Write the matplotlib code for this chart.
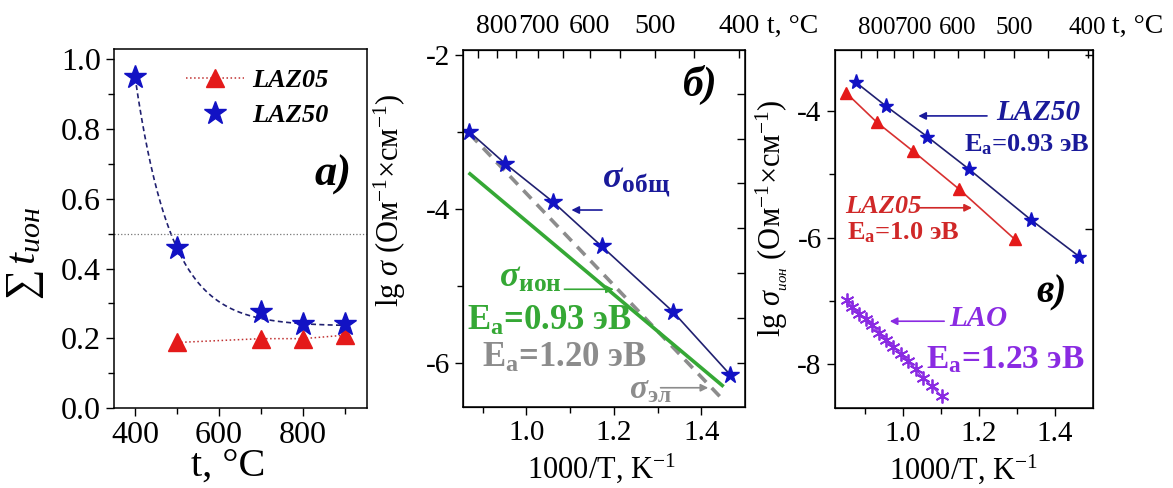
import matplotlib
matplotlib.use('Agg')
import matplotlib.pyplot as plt
import numpy as np

plt.rcParams['font.family'] = 'Liberation Serif'
plt.rcParams['mathtext.fontset'] = 'custom'
plt.rcParams['mathtext.rm'] = 'Liberation Serif'
plt.rcParams['mathtext.it'] = 'Liberation Serif:italic'
plt.rcParams['mathtext.bf'] = 'Liberation Serif:bold'
plt.rcParams['mathtext.bfit'] = 'Liberation Serif:italic:bold'
plt.rcParams['axes.unicode_minus'] = False

# --- (a) summary ionic transport number vs temperature ---
t_laz50 = [400, 500, 700, 800, 900]
sum_t_laz50 = [0.95, 0.46, 0.275, 0.242, 0.240]
t_laz05 = [500, 700, 800, 900]
sum_t_laz05 = [0.188, 0.199, 0.199, 0.209]
# exponential decay fit for LAZ50: y0 + A*exp(-(t - 400)/tau)
fit_y0, fit_A, fit_tau = 0.235, 0.715, 86.0

# --- (b) total / ionic / electronic conductivity of LAZ50 ---
invT_total = [0.869, 0.952, 1.060, 1.172, 1.335, 1.466]
lg_sigma_total = [-2.99, -3.41, -3.90, -4.48, -5.33, -6.15]
invT_ion = [0.871, 1.448]
lg_sigma_ion = [-3.54, -6.29]
invT_el = [0.870, 1.447]
lg_sigma_el = [-3.02, -6.46]

# --- (c) ionic conductivity of LAZ50, LAZ05, LAO ---
invT_laz50 = [0.877, 0.955, 1.065, 1.174, 1.337, 1.464]
lg_ion_laz50 = [-3.55, -3.92, -4.41, -4.92, -5.72, -6.30]
invT_laz05 = [0.852, 0.932, 1.028, 1.147, 1.295]
lg_ion_laz05 = [-3.72, -4.18, -4.64, -5.23, -6.03]
invT_lao = [0.853, 0.866, 0.886, 0.903, 0.920, 0.937, 0.955,
            0.974, 0.996, 1.013, 1.035, 1.054, 1.077, 1.102]
lg_ion_lao = [-6.99, -7.09, -7.20, -7.29, -7.38, -7.50, -7.62,
              -7.72, -7.84, -7.95, -8.08, -8.22, -8.35, -8.50]

top_t_major = [800, 700, 600, 500, 400]
top_t_all = list(range(850, 350, -50))

BLUE = '#1212c4'
NAVY = '#202070'
RED = '#e41a1a'
GREEN = '#35a835'
GRAY = '#8c8c8c'
PURPLE = '#8a2be2'


def inv_T(t):
    return 1000.0 / (np.asarray(t, dtype=float) + 273.15)


def style_axis(ax, size):
    ax.tick_params(which='both', direction='out', labelsize=size, width=1)
    ax.tick_params(which='major', length=6)
    ax.tick_params(which='minor', length=4)
    for s in ax.spines.values():
        s.set_linewidth(1.1)


def add_top_temperature(ax, size, label_x):
    top = ax.twiny()
    top.set_xlim(ax.get_xlim())
    top.set_xticks(inv_T(top_t_major))
    top.set_xticklabels([str(t) for t in top_t_major])
    top.set_xticks(inv_T(top_t_all), minor=True)
    top.tick_params(which='both', direction='in', length=6, width=1,
                    labelsize=size, pad=8)
    top.text(label_x, 1.067, 't, °C', transform=ax.transAxes, fontsize=20,
             ha='left', va='center')
    return top


def add_right_ticks(ax, fracs):
    right = ax.twinx()
    right.set_ylim(0, 1)
    right.set_yticks(fracs)
    right.tick_params(direction='in', length=6, width=1, labelright=False)


def arrow(ax, tail, head, color, lw=1.2):
    ax.annotate('', xy=head, xytext=tail,
                arrowprops=dict(arrowstyle='-|>', color=color, lw=lw,
                                mutation_scale=11, shrinkA=0, shrinkB=0))


fig = plt.figure(figsize=(11.73, 4.88), dpi=100)

# ---------------- panel a ----------------
ax1 = fig.add_axes([0.0972, 0.1639, 0.2157, 0.7357])
tt = np.linspace(400, 900, 200)
ax1.plot(tt, fit_y0 + fit_A * np.exp(-(tt - 400) / fit_tau), '--',
         color=NAVY, lw=1.2, dashes=(3, 2))
ax1.plot(t_laz05, sum_t_laz05, ':', color='#c03030', lw=1.1,
         marker='^', ms=13, mfc=RED, mec=RED, label='LAZ05')
ax1.plot(t_laz50, sum_t_laz50, ls='none', marker='*', ms=17,
         mfc=BLUE, mec=BLUE, label='LAZ50')
ax1.axhline(0.5, color='#777777', ls=':', lw=0.9)
ax1.set_xlim(350, 952)
ax1.set_ylim(0, 1.03)
ax1.set_xticks([400, 600, 800])
ax1.set_xticks([500, 700, 900], minor=True)
ax1.set_yticks(np.arange(0, 1.01, 0.2))
ax1.set_yticks(np.arange(0.1, 1.0, 0.2), minor=True)
ax1.yaxis.set_major_formatter(matplotlib.ticker.FormatStrFormatter('%.1f'))
style_axis(ax1, 23)
ax1.set_xlabel('t, °C', fontsize=29)
ax1.xaxis.set_label_coords(0.45, -0.11)
ax1.set_ylabel(r'$\sum\, t_{ион}$', fontsize=31)
ax1.yaxis.set_label_coords(-0.27, 0.43)
ax1.legend(loc='upper right', bbox_to_anchor=(0.91, 0.99), frameon=False,
           numpoints=1, handlelength=2.2,
           prop=dict(family='Liberation Serif', weight='bold',
                     style='italic', size=19),
           borderaxespad=0.2, labelspacing=0.45, handletextpad=0.3)
ax1.text(871, 0.67, 'a)', fontsize=32, fontweight='bold', style='italic',
         ha='center', va='center')

# ---------------- panel b ----------------
ax2 = fig.add_axes([0.3947, 0.1660, 0.2404, 0.7316])
ax2.plot(invT_el, lg_sigma_el, color=GRAY, lw=2.6, dashes=(3.2, 2.2))
ax2.plot(invT_ion, lg_sigma_ion, color=GREEN, lw=2.6)
ax2.plot(invT_total, lg_sigma_total, '-', color=NAVY, lw=1.2,
         marker='*', ms=13, mfc=BLUE, mec=BLUE)
ax2.set_xlim(0.855, 1.50)
ax2.set_ylim(-6.57, -1.93)
ax2.set_xticks([1.0, 1.2, 1.4])
ax2.set_xticks([0.9, 1.1, 1.3], minor=True)
ax2.set_yticks([-2, -4, -6])
ax2.set_yticks([-3, -5], minor=True)
style_axis(ax2, 21)
ax2.set_xlabel(r'1000/T, K$^{-1}$', fontsize=22)
ax2.xaxis.set_label_coords(0.49, -0.125)
ax2.set_ylabel(r'lg $\sigma$ (Ом$^{-1}$×см$^{-1}$)', fontsize=22)
ax2.yaxis.set_label_coords(-0.195, 0.58)

ax2.text(1.250, -3.65, r'$\mathbfit{\sigma}_{\mathbf{общ}}$', color='#1a1a9a',
         fontsize=26, ha='center', va='center')
arrow(ax2, (1.173, -4.01), (1.103, -4.01), '#1a1a9a')
ax2.text(1.010, -4.90, r'$\mathbfit{\sigma}_{\mathbf{ион}}$', color=GREEN,
         fontsize=26, ha='center', va='center')
arrow(ax2, (1.087, -5.04), (1.200, -5.04), GREEN)
ax2.text(1.054, -5.46, r'E$_\mathbf{a}$=0.93 эВ', color=GREEN, fontsize=25,
         fontweight='bold', ha='center', va='center')
ax2.text(1.087, -5.94, r'E$_\mathbf{a}$=1.20 эВ', color=GRAY, fontsize=25,
         fontweight='bold', ha='center', va='center')
ax2.text(1.235, -6.35, r'$\mathbfit{\sigma}_{\mathbf{эл}}$', color=GRAY,
         fontsize=24, ha='left', va='center')
arrow(ax2, (1.307, -6.32), (1.416, -6.32), GRAY)
ax2.text(1.397, -2.39, 'б)', fontsize=30, fontweight='bold', style='italic',
         ha='center', va='center')

add_top_temperature(ax2, 20, 1.078)
add_right_ticks(ax2, [0.122 + 0.126 * k for k in range(7)])

# ---------------- panel c ----------------
ax3 = fig.add_axes([0.7118, 0.1639, 0.2200, 0.7336])
ax3.plot(invT_laz05, lg_ion_laz05, '-', color='#d83030', lw=1.2,
         marker='^', ms=8, mfc=RED, mec=RED)
ax3.plot(invT_laz50, lg_ion_laz50, '-', color=NAVY, lw=1.2,
         marker='*', ms=11, mfc=BLUE, mec=BLUE)
ax3.plot(invT_lao, lg_ion_lao, '-', color=PURPLE, lw=1.0,
         marker=(6, 2, 0), ms=10, mec=PURPLE, mew=1.3)
ax3.set_xlim(0.822, 1.50)
ax3.set_ylim(-8.69, -3.04)
ax3.set_xticks([1.0, 1.2, 1.4])
ax3.set_xticks([0.9, 1.1, 1.3], minor=True)
ax3.set_yticks([-4, -6, -8])
ax3.set_yticks([-5, -7], minor=True)
style_axis(ax3, 21)
ax3.set_xlabel(r'1000/T, K$^{-1}$', fontsize=22)
ax3.xaxis.set_label_coords(0.50, -0.125)
ax3.set_ylabel(r'lg $\sigma_{_{ион}}$ (Ом$^{-1}$×см$^{-1}$)', fontsize=22)
ax3.yaxis.set_label_coords(-0.175, 0.53)

arrow(ax3, (1.2215, -4.08), (1.041, -4.08), '#1a1a9a')
ax3.text(1.245, -4.02, 'LAZ50', color='#1a1a9a', fontsize=21,
         fontweight='bold', style='italic', ha='left', va='center')
ax3.text(1.161, -4.54, r'E$_\mathbf{a}$=0.93 эВ', color='#1a1a9a',
         fontsize=19, fontweight='bold', ha='left', va='center')
ax3.text(0.848, -5.51, 'LAZ05', color='#d02828', fontsize=19,
         fontweight='bold', style='italic', ha='left', va='center')
arrow(ax3, (1.044, -5.53), (1.182, -5.53), '#d02828')
ax3.text(0.853, -5.93, r'E$_\mathbf{a}$=1.0 эВ', color='#d02828',
         fontsize=19, fontweight='bold', ha='left', va='center')
ax3.text(1.391, -6.88, 'в)', fontsize=28, fontweight='bold', style='italic',
         ha='center', va='center')
arrow(ax3, (1.109, -7.32), (0.966, -7.32), PURPLE)
ax3.text(1.122, -7.27, 'LAO', color=PURPLE, fontsize=21,
         fontweight='bold', style='italic', ha='left', va='center')
ax3.text(1.062, -7.93, r'E$_\mathbf{a}$=1.23 эВ', color=PURPLE,
         fontsize=24, fontweight='bold', ha='left', va='center')

add_top_temperature(ax3, 18, 1.075)
add_right_ticks(ax3, [0.5, 0.985])

fig.savefig('out.png', dpi=100)
